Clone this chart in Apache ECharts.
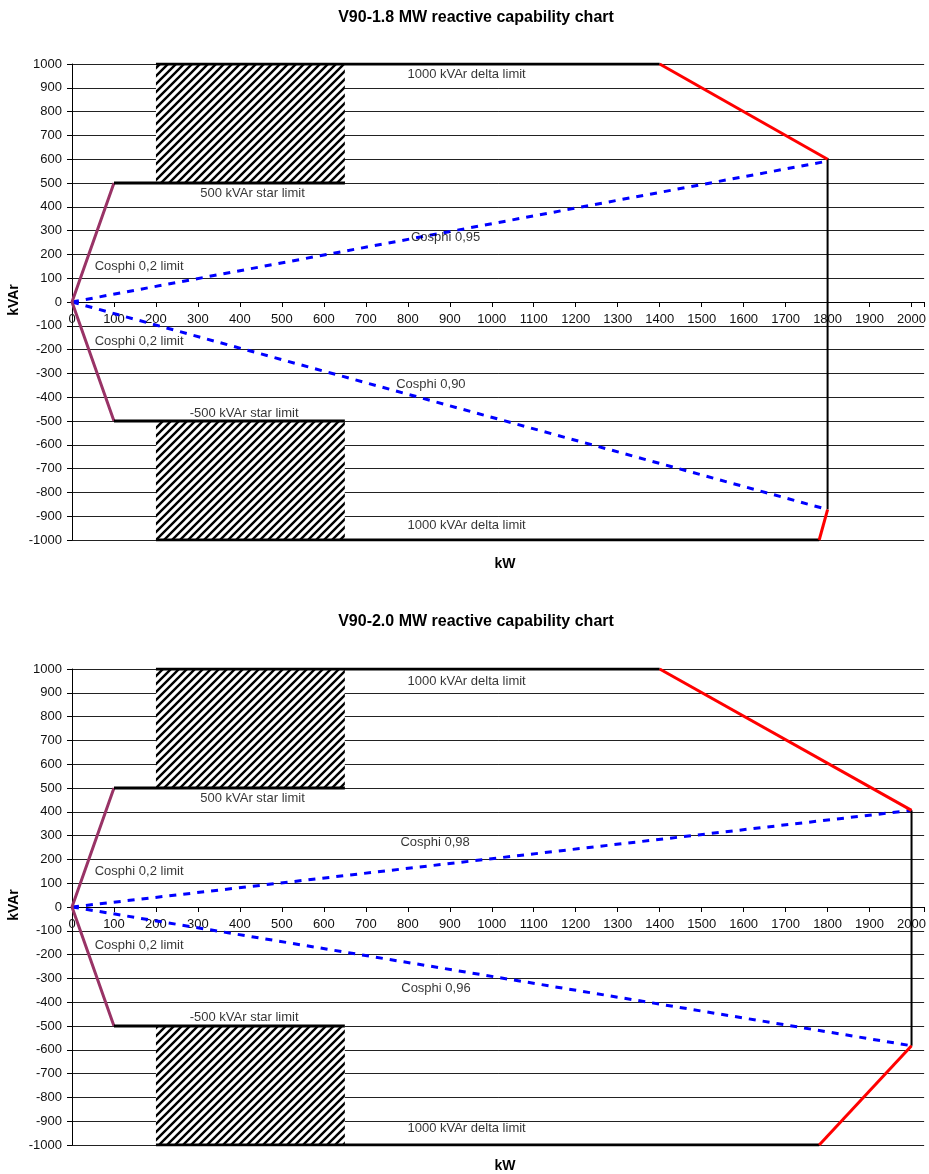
<!DOCTYPE html>
<html>
<head>
<meta charset="utf-8">
<script src="https://cdn.jsdelivr.net/npm/echarts@6/dist/echarts.min.js"></script>
<style>
  html, body { margin: 0; padding: 0; background: #fff; }
  #chart { width: 929px; height: 1174px; }
</style>
</head>
<body>
<div id="chart"></div>
<script>
// ---- V90-1.8 MW capability envelope (kW, kVAr) ----
const deltaTop1      = [[200, 1000], [1400, 1000]];
const deltaSlopeTop1 = [[1400, 1000], [1800, 600]];
const ratedLine1     = [[1800, 605], [1800, -872]];
const deltaSlopeBot1 = [[1800, -872], [1780, -1000]];
const deltaBot1      = [[200, -1000], [1780, -1000]];
const cosphiCap1     = [[0, 0], [1800, 592]];   // cos phi 0.95
const cosphiInd1     = [[0, 0], [1800, -872]];  // cos phi 0.90

// ---- V90-2.0 MW capability envelope ----
const deltaTop2      = [[200, 1000], [1400, 1000]];
const deltaSlopeTop2 = [[1400, 1000], [2000, 406]];
const ratedLine2     = [[2000, 406], [2000, -583]];
const deltaSlopeBot2 = [[2000, -583], [1780, -1000]];
const deltaBot2      = [[200, -1000], [1780, -1000]];
const cosphiCap2     = [[0, 0], [2000, 406]];   // cos phi 0.98
const cosphiInd2     = [[0, 0], [2000, -583]];  // cos phi 0.96

// ---- shared limits ----
const starUpper  = [[100, 500], [650, 500]];
const starLower  = [[100, -500], [650, -500]];
const cosphi02   = [[100, 500], [0, 0], [100, -500]];
// forbidden zones: [kW from, kW to, kVAr from, kVAr to]
const hatchZones = [[200, 650, 500, 1000], [200, 650, -1000, -500]];

// annotation anchors: [kW, kVAr, text]
const notes1 = [
  [940, 955, '1000 kVAr delta limit'],
  [430, 458, '500 kVAr star limit'],
  [890, 270, 'Cosphi 0,95'],
  [160, 148, 'Cosphi 0,2 limit'],
  [160, -166, 'Cosphi 0,2 limit'],
  [855, -345, 'Cosphi 0,90'],
  [410, -467, '-500 kVAr star limit'],
  [940, -938, '1000 kVAr delta limit']
];
const notes2 = [
  [940, 948, '1000 kVAr delta limit'],
  [430, 458, '500 kVAr star limit'],
  [865, 272, 'Cosphi 0,98'],
  [160, 150, 'Cosphi 0,2 limit'],
  [160, -161, 'Cosphi 0,2 limit'],
  [867, -342, 'Cosphi 0,96'],
  [410, -463, '-500 kVAr star limit'],
  [940, -930, '1000 kVAr delta limit']
];

const titles = ['V90-1.8 MW reactive capability chart', 'V90-2.0 MW reactive capability chart'];

const FONT = 'Liberation Sans, Arial, sans-serif';

// diagonal hatch tile
function hatchTile() {
  const s = 8;
  const c = document.createElement('canvas');
  c.width = s; c.height = s;
  const g = c.getContext('2d');
  g.fillStyle = '#fff';
  g.fillRect(0, 0, s, s);
  g.strokeStyle = '#000';
  g.lineWidth = 2.4;
  g.beginPath();
  g.moveTo(-1, s + 1); g.lineTo(s + 1, -1);
  g.moveTo(-1, 1); g.lineTo(1, -1);
  g.moveTo(s - 1, s + 1); g.lineTo(s + 1, s - 1);
  g.stroke();
  return c;
}
const hatchPattern = { image: hatchTile(), repeat: 'repeat' };

const PLOT_H = 476;
const grids = [
  { left: 72, top: 64, width: 857, height: PLOT_H },
  { left: 72, top: 669, width: 857, height: PLOT_H }
];

function xAxis(i) {
  return {
    type: 'value', gridIndex: i, min: 0, max: 2030, interval: 100,
    position: 'bottom', offset: -PLOT_H / 2,
    axisLine: { onZero: false, lineStyle: { color: '#000', width: 1 } },
    axisTick: { show: true, inside: false, length: 5, lineStyle: { color: '#000' } },
    axisLabel: { color: '#111', fontFamily: FONT, fontSize: 13, margin: 11,
      formatter: v => (v % 100 === 0 && v <= 2000) ? String(v) : '' },
    splitLine: { show: false }
  };
}
function yAxis(i) {
  return {
    type: 'value', gridIndex: i, min: -1000, max: 1000, interval: 100,
    axisLine: { show: true, onZero: false, lineStyle: { color: '#000', width: 1 } },
    axisTick: { show: true, length: 5, lineStyle: { color: '#000' } },
    axisLabel: { color: '#111', fontFamily: FONT, fontSize: 13, margin: 10,
      formatter: v => String(v) },
    splitLine: { show: true, lineStyle: { color: '#222', width: 1 } }
  };
}

function seg(data, i, color, width, dash) {
  return {
    type: 'line', xAxisIndex: i, yAxisIndex: i, data: data,
    symbol: 'none', silent: true, animation: false, z: dash ? 4 : 5,
    lineStyle: { color: color, width: width, type: dash || 'solid', cap: 'butt' }
  };
}

function hatch(i) {
  return {
    type: 'custom', xAxisIndex: i, yAxisIndex: i, data: hatchZones,
    encode: { x: [0, 1], y: [2, 3] }, silent: true, animation: false, z: 3,
    renderItem: function (params, api) {
      const p0 = api.coord([api.value(0), api.value(3)]);
      const p1 = api.coord([api.value(1), api.value(2)]);
      return { type: 'rect',
        shape: { x: p0[0], y: p0[1], width: p1[0] - p0[0], height: p1[1] - p0[1] },
        style: { fill: hatchPattern } };
    }
  };
}

function notes(data, i) {
  return {
    type: 'scatter', xAxisIndex: i, yAxisIndex: i, data: data,
    symbolSize: 0, silent: true, animation: false, z: 6,
    label: { show: true, position: 'inside', formatter: p => p.data[2],
      color: '#000', fontFamily: FONT, fontSize: 13 }
  };
}

const sets = [
  { top: deltaTop1, sTop: deltaSlopeTop1, rated: ratedLine1, sBot: deltaSlopeBot1, bot: deltaBot1,
    cap: cosphiCap1, ind: cosphiInd1, notes: notes1 },
  { top: deltaTop2, sTop: deltaSlopeTop2, rated: ratedLine2, sBot: deltaSlopeBot2, bot: deltaBot2,
    cap: cosphiCap2, ind: cosphiInd2, notes: notes2 }
];

const series = [];
sets.forEach((s, i) => {
  series.push(hatch(i));
  series.push(seg(s.cap, i, '#0000ff', 3, [7, 7]));
  series.push(seg(s.ind, i, '#0000ff', 3, [7, 7]));
  series.push(seg(cosphi02, i, '#993366', 3));
  series.push(seg(starUpper, i, '#000', 3));
  series.push(seg(starLower, i, '#000', 3));
  series.push(seg(s.top, i, '#000', 3));
  series.push(seg(s.bot, i, '#000', 3));
  series.push(seg(s.rated, i, '#000', 2));
  series.push(seg(s.sTop, i, '#ff0000', 3));
  series.push(seg(s.sBot, i, '#ff0000', 3));
  series.push(notes(s.notes, i));
});

const textStyle = (extra) => Object.assign({ fontFamily: FONT, fontWeight: 'bold', fill: '#000',
  align: 'center', verticalAlign: 'middle' }, extra);

const chart = echarts.init(document.getElementById('chart'), null, { renderer: 'canvas' });
chart.setOption({
  animation: false,
  backgroundColor: '#fff',
  grid: grids,
  xAxis: [xAxis(0), xAxis(1)],
  yAxis: [yAxis(0), yAxis(1)],
  series: series,
  graphic: [
    { type: 'text', x: 476, y: 18, style: textStyle({ text: titles[0], fontSize: 16 }) },
    { type: 'text', x: 476, y: 622, style: textStyle({ text: titles[1], fontSize: 16 }) },
    { type: 'text', x: 505, y: 564, style: textStyle({ text: 'kW', fontSize: 14 }) },
    { type: 'text', x: 505, y: 1166, style: textStyle({ text: 'kW', fontSize: 14 }) },
    { type: 'text', x: 14, y: 300, rotation: Math.PI / 2, style: textStyle({ text: 'kVAr', fontSize: 14 }) },
    { type: 'text', x: 14, y: 905, rotation: Math.PI / 2, style: textStyle({ text: 'kVAr', fontSize: 14 }) }
  ]
});
</script>
</body>
</html>
